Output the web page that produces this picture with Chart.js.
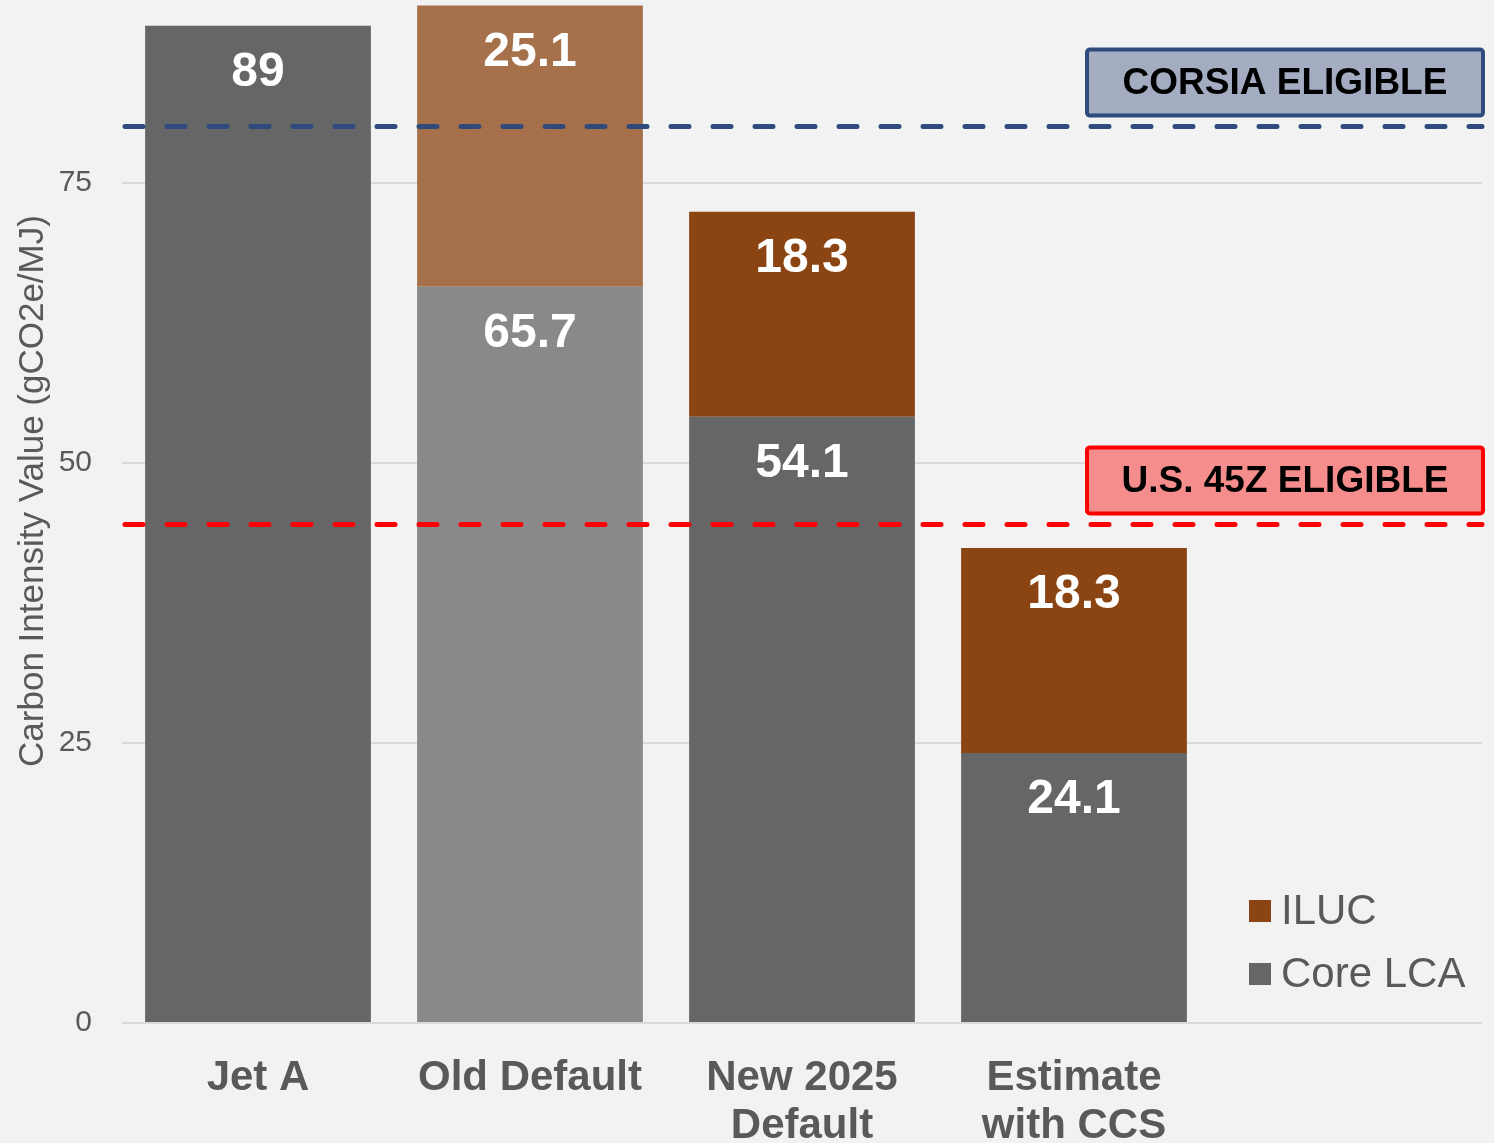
<!DOCTYPE html>
<html>
<head>
<meta charset="utf-8">
<script src="https://cdn.jsdelivr.net/npm/chart.js@4/dist/chart.umd.min.js"></script>
<style>
  body { margin: 0; background: #f2f2f2; }
  #wrap { width: 1494px; height: 1143px; }
</style>
</head>
<body>
<div id="wrap"><canvas id="ci-chart"></canvas></div>
<script>
// chart data
const categories = ['Jet A', 'Old Default', ['New 2025', 'Default'], ['Estimate', 'with CCS'], ''];
const coreLCA = [89, 65.7, 54.1, 24.1, null];
const iluc = [null, 25.1, 18.3, 18.3, null];
const yTicks = [0, 25, 50, 75];
const thresholds = [
  { value: 80, label: 'CORSIA ELIGIBLE', line: '#2f4a7c', fill: '#a3acc1' },
  { value: 44.5, label: 'U.S. 45Z ELIGIBLE', line: '#ff0000', fill: '#f58d8d' }
];

const FONT = '"Liberation Sans", Arial, sans-serif';
const TEXT_GRAY = '#595959';

// background + threshold lines, boxes, labels, legend, axis title
const decorations = {
  id: 'decorations',
  beforeDraw(chart) {
    const ctx = chart.ctx;
    ctx.save();
    ctx.fillStyle = '#f2f2f2';
    ctx.fillRect(0, 0, chart.width, chart.height);
    ctx.restore();
  },
  afterDatasetsDraw(chart) {
    const ctx = chart.ctx;
    const area = chart.chartArea;
    const y = chart.scales.y;

    // value labels inside bars, near the top
    ctx.save();
    ctx.fillStyle = '#ffffff';
    ctx.font = 'bold 48px ' + FONT;
    ctx.textAlign = 'center';
    ctx.textBaseline = 'middle';
    chart.data.datasets.forEach((ds, i) => {
      chart.getDatasetMeta(i).data.forEach((bar, j) => {
        const v = ds.data[j];
        if (v == null) return;
        ctx.fillText(String(v), bar.x, bar.y + 47);
      });
    });
    ctx.restore();

    // threshold lines
    thresholds.forEach(t => {
      const py = y.getPixelForValue(t.value);
      ctx.save();
      ctx.strokeStyle = t.line;
      ctx.lineWidth = 5;
      ctx.lineCap = 'round';
      ctx.setLineDash([18, 24]);
      ctx.beginPath();
      ctx.moveTo(area.left + 3, py);
      ctx.lineTo(area.right, py);
      ctx.stroke();
      ctx.restore();

      // label box above line
      const bw = 396, bh = 66;
      const bx = area.right - bw + 1;
      const by = py - 11 - bh;
      ctx.save();
      ctx.fillStyle = t.fill;
      ctx.strokeStyle = t.line;
      ctx.lineWidth = 4;
      ctx.beginPath();
      ctx.roundRect(bx, by, bw, bh, 3);
      ctx.fill();
      ctx.stroke();
      ctx.fillStyle = '#000000';
      ctx.font = 'bold 37px ' + FONT;
      ctx.textAlign = 'center';
      ctx.textBaseline = 'middle';
      ctx.fillText(t.label, bx + bw / 2, by + bh / 2 + 1);
      ctx.restore();
    });

    // legend
    const items = [
      { label: 'ILUC', color: '#8b4513', y: 911 },
      { label: 'Core LCA', color: '#666666', y: 974 }
    ];
    ctx.save();
    ctx.font = '42px ' + FONT;
    ctx.textBaseline = 'middle';
    items.forEach(it => {
      ctx.fillStyle = it.color;
      ctx.fillRect(1249, it.y - 11, 22, 22);
      ctx.fillStyle = TEXT_GRAY;
      ctx.fillText(it.label, 1281, it.y + 1);
    });
    ctx.restore();

    // y axis title
    ctx.save();
    ctx.translate(33, 491);
    ctx.rotate(-Math.PI / 2);
    ctx.fillStyle = TEXT_GRAY;
    ctx.font = '35px ' + FONT;
    ctx.textAlign = 'center';
    ctx.textBaseline = 'middle';
    ctx.fillText('Carbon Intensity Value (gCO2e/MJ)', 0, 0);
    ctx.restore();
  }
};

const chart = new Chart(document.getElementById('ci-chart'), {
  type: 'bar',
  data: {
    labels: categories,
    datasets: [
      {
        label: 'Core LCA',
        data: coreLCA,
        backgroundColor: ['#666666', '#898989', '#666666', '#666666', '#666666']
      },
      {
        label: 'ILUC',
        data: iluc,
        backgroundColor: ['#8b4513', '#a5704a', '#8b4513', '#8b4513', '#8b4513']
      }
    ]
  },
  options: {
    responsive: true,
    maintainAspectRatio: false,
    animation: false,
    layout: { padding: { top: 0, right: 12, left: 0, bottom: 0 } },
    datasets: {
      bar: { categoryPercentage: 1, barPercentage: 0.83 }
    },
    plugins: {
      legend: { display: false },
      tooltip: { enabled: false }
    },
    scales: {
      x: {
        stacked: true,
        grid: { display: false, drawTicks: false },
        border: { display: false },
        ticks: {
          color: TEXT_GRAY,
          font: { family: FONT, size: 42, weight: 'bold', lineHeight: 1.15 },
          padding: 31,
          maxRotation: 0,
          autoSkip: false
        },
        afterFit(scale) {
          scale.height = 120;
          scale.paddingLeft = 0;
          scale.paddingRight = 0;
        }
      },
      y: {
        stacked: true,
        min: 0,
        max: 91.3,
        grid: { color: '#d9d9d9', lineWidth: 2, drawTicks: false },
        border: { display: false },
        ticks: {
          color: TEXT_GRAY,
          font: { family: FONT, size: 30 },
          padding: 30
        },
        afterBuildTicks(scale) {
          scale.ticks = yTicks.map(v => ({ value: v }));
        },
        afterFit(scale) {
          scale.width = 122;
          scale.paddingTop = 0;
          scale.paddingBottom = 0;
        }
      }
    }
  },
  plugins: [decorations]
});
</script>
</body>
</html>
